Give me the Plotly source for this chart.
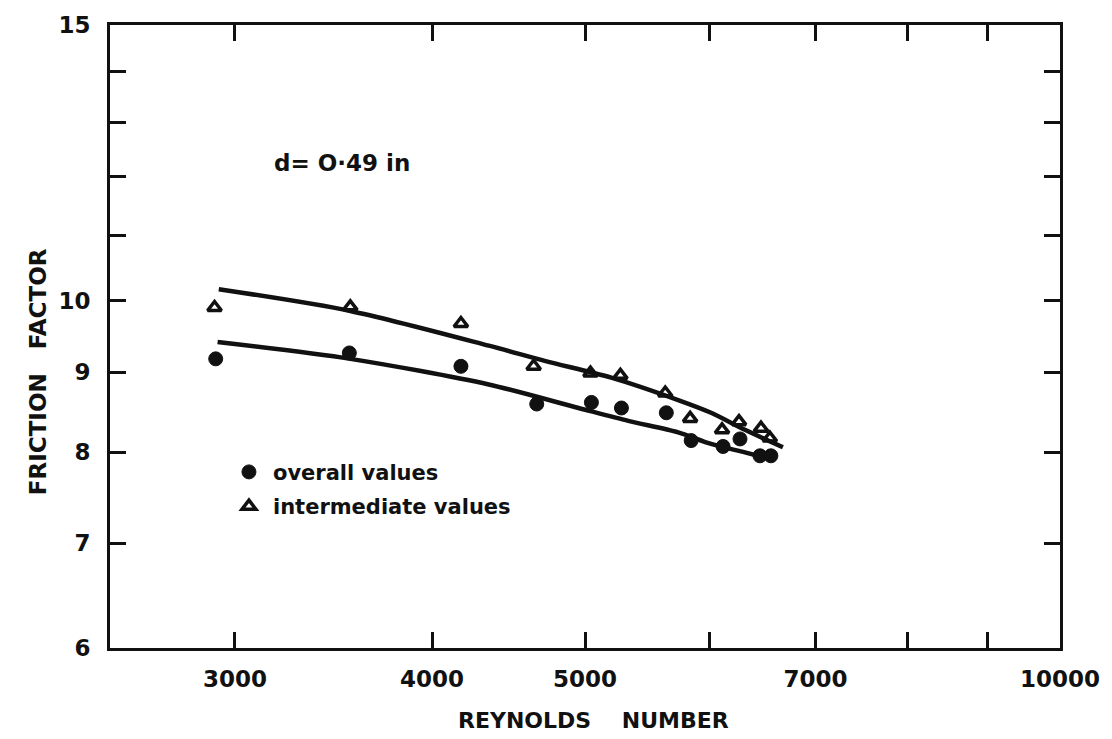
import plotly.graph_objects as go
import math

# ---- data (log-log axes) ----
re_overall = [2917, 3545, 4172, 4660, 5047, 5273, 5630, 5838, 6116, 6269, 6454, 6558]
f_overall = [9.18, 9.26, 9.08, 8.59, 8.61, 8.54, 8.48, 8.14, 8.07, 8.16, 7.96, 7.96]

re_inter = [2912, 3550, 4172, 4639, 5040, 5265, 5621, 5829, 6107, 6260, 6464, 6548]
f_inter = [9.90, 9.91, 9.67, 9.08, 8.99, 8.96, 8.73, 8.41, 8.27, 8.37, 8.29, 8.17]

re_curve_upper = [2930, 3550, 4345, 4721, 5196, 5728, 6010, 6314, 6674]
f_curve_upper = [10.17, 9.85, 9.36, 9.15, 8.93, 8.64, 8.48, 8.27, 8.06]

re_curve_lower = [2925, 3550, 4345, 4953, 5326, 5728, 6010, 6314, 6596]
f_curve_lower = [9.41, 9.18, 8.84, 8.54, 8.38, 8.24, 8.10, 8.00, 7.91]

x_tickvals = [3000, 4000, 5000, 6000, 7000, 8000, 9000, 10000]
x_ticktext = ["3000", "4000", "5000", "", "7000", "", "", "10000"]
y_tickvals = [6, 7, 8, 9, 10, 11, 12, 13, 14, 15]
y_ticktext = ["6", "7", "8", "9", "10", "", "", "", "", "15"]

FONT = "DejaVu Sans"
INK = "#111111"

fig = go.Figure()

fig.add_trace(go.Scatter(x=re_curve_upper, y=f_curve_upper, mode="lines",
                         line=dict(color=INK, width=4.5, shape="spline", smoothing=0.8),
                         showlegend=False, hoverinfo="skip"))
fig.add_trace(go.Scatter(x=re_curve_lower, y=f_curve_lower, mode="lines",
                         line=dict(color=INK, width=4.5, shape="spline", smoothing=0.8),
                         showlegend=False, hoverinfo="skip"))

fig.add_trace(go.Scatter(x=re_overall, y=f_overall, mode="markers", name="overall values",
                         legendgroup="a",
                         marker=dict(symbol="circle", size=14, color=INK,
                                     line=dict(color=INK, width=1))))
fig.add_trace(go.Scatter(x=re_inter, y=f_inter, mode="markers", name="intermediate values",
                         legendgroup="b",
                         marker=dict(symbol="triangle-up-open", size=12, color=INK,
                                     line=dict(color=INK, width=3.5))))

axis_common = dict(
    showgrid=False, zeroline=False, showline=True, linecolor=INK, linewidth=3,
    mirror="ticks", ticks="inside", ticklen=16, tickwidth=2.5, tickcolor=INK,
    tickfont=dict(family=FONT, size=23, color=INK, weight="bold"),
)

fig.update_xaxes(type="log", range=[math.log10(2500), 4],
                 tickvals=x_tickvals, ticktext=x_ticktext, ticklabelstandoff=8,
                 **axis_common)
fig.update_yaxes(type="log", range=[math.log10(6), math.log10(15)],
                 tickvals=y_tickvals, ticktext=y_ticktext, ticklabelstandoff=12,
                 **axis_common)

fig.add_annotation(text="REYNOLDS\u00a0\u00a0\u00a0 NUMBER", xref="paper", yref="paper",
                   x=0.509, y=-0.117, xanchor="center", yanchor="middle", showarrow=False,
                   font=dict(family=FONT, size=22, color=INK, weight="bold"))
fig.add_annotation(text="FRICTION\u00a0\u00a0 FACTOR", xref="paper", yref="paper",
                   x=-0.0756, y=0.443, xanchor="center", yanchor="middle",
                   showarrow=False, textangle=-90,
                   font=dict(family=FONT, size=23, color=INK, weight="bold"))
fig.add_annotation(text="d= O·49 in", xref="paper", yref="paper",
                   x=0.17, y=0.778, xanchor="left", yanchor="middle", showarrow=False,
                   font=dict(family=FONT, size=23, color=INK, weight="bold"))

fig.update_layout(
    width=1112, height=739,
    margin=dict(l=110, r=49, t=18, b=91),
    paper_bgcolor="white", plot_bgcolor="white",
    legend=dict(x=0.121, y=0.315, xanchor="left", yanchor="top",
                traceorder="grouped", tracegroupgap=4, itemwidth=38,
                font=dict(family=FONT, size=21, color=INK, weight="bold"),
                bgcolor="rgba(0,0,0,0)"),
)

fig.write_html("out.html")
